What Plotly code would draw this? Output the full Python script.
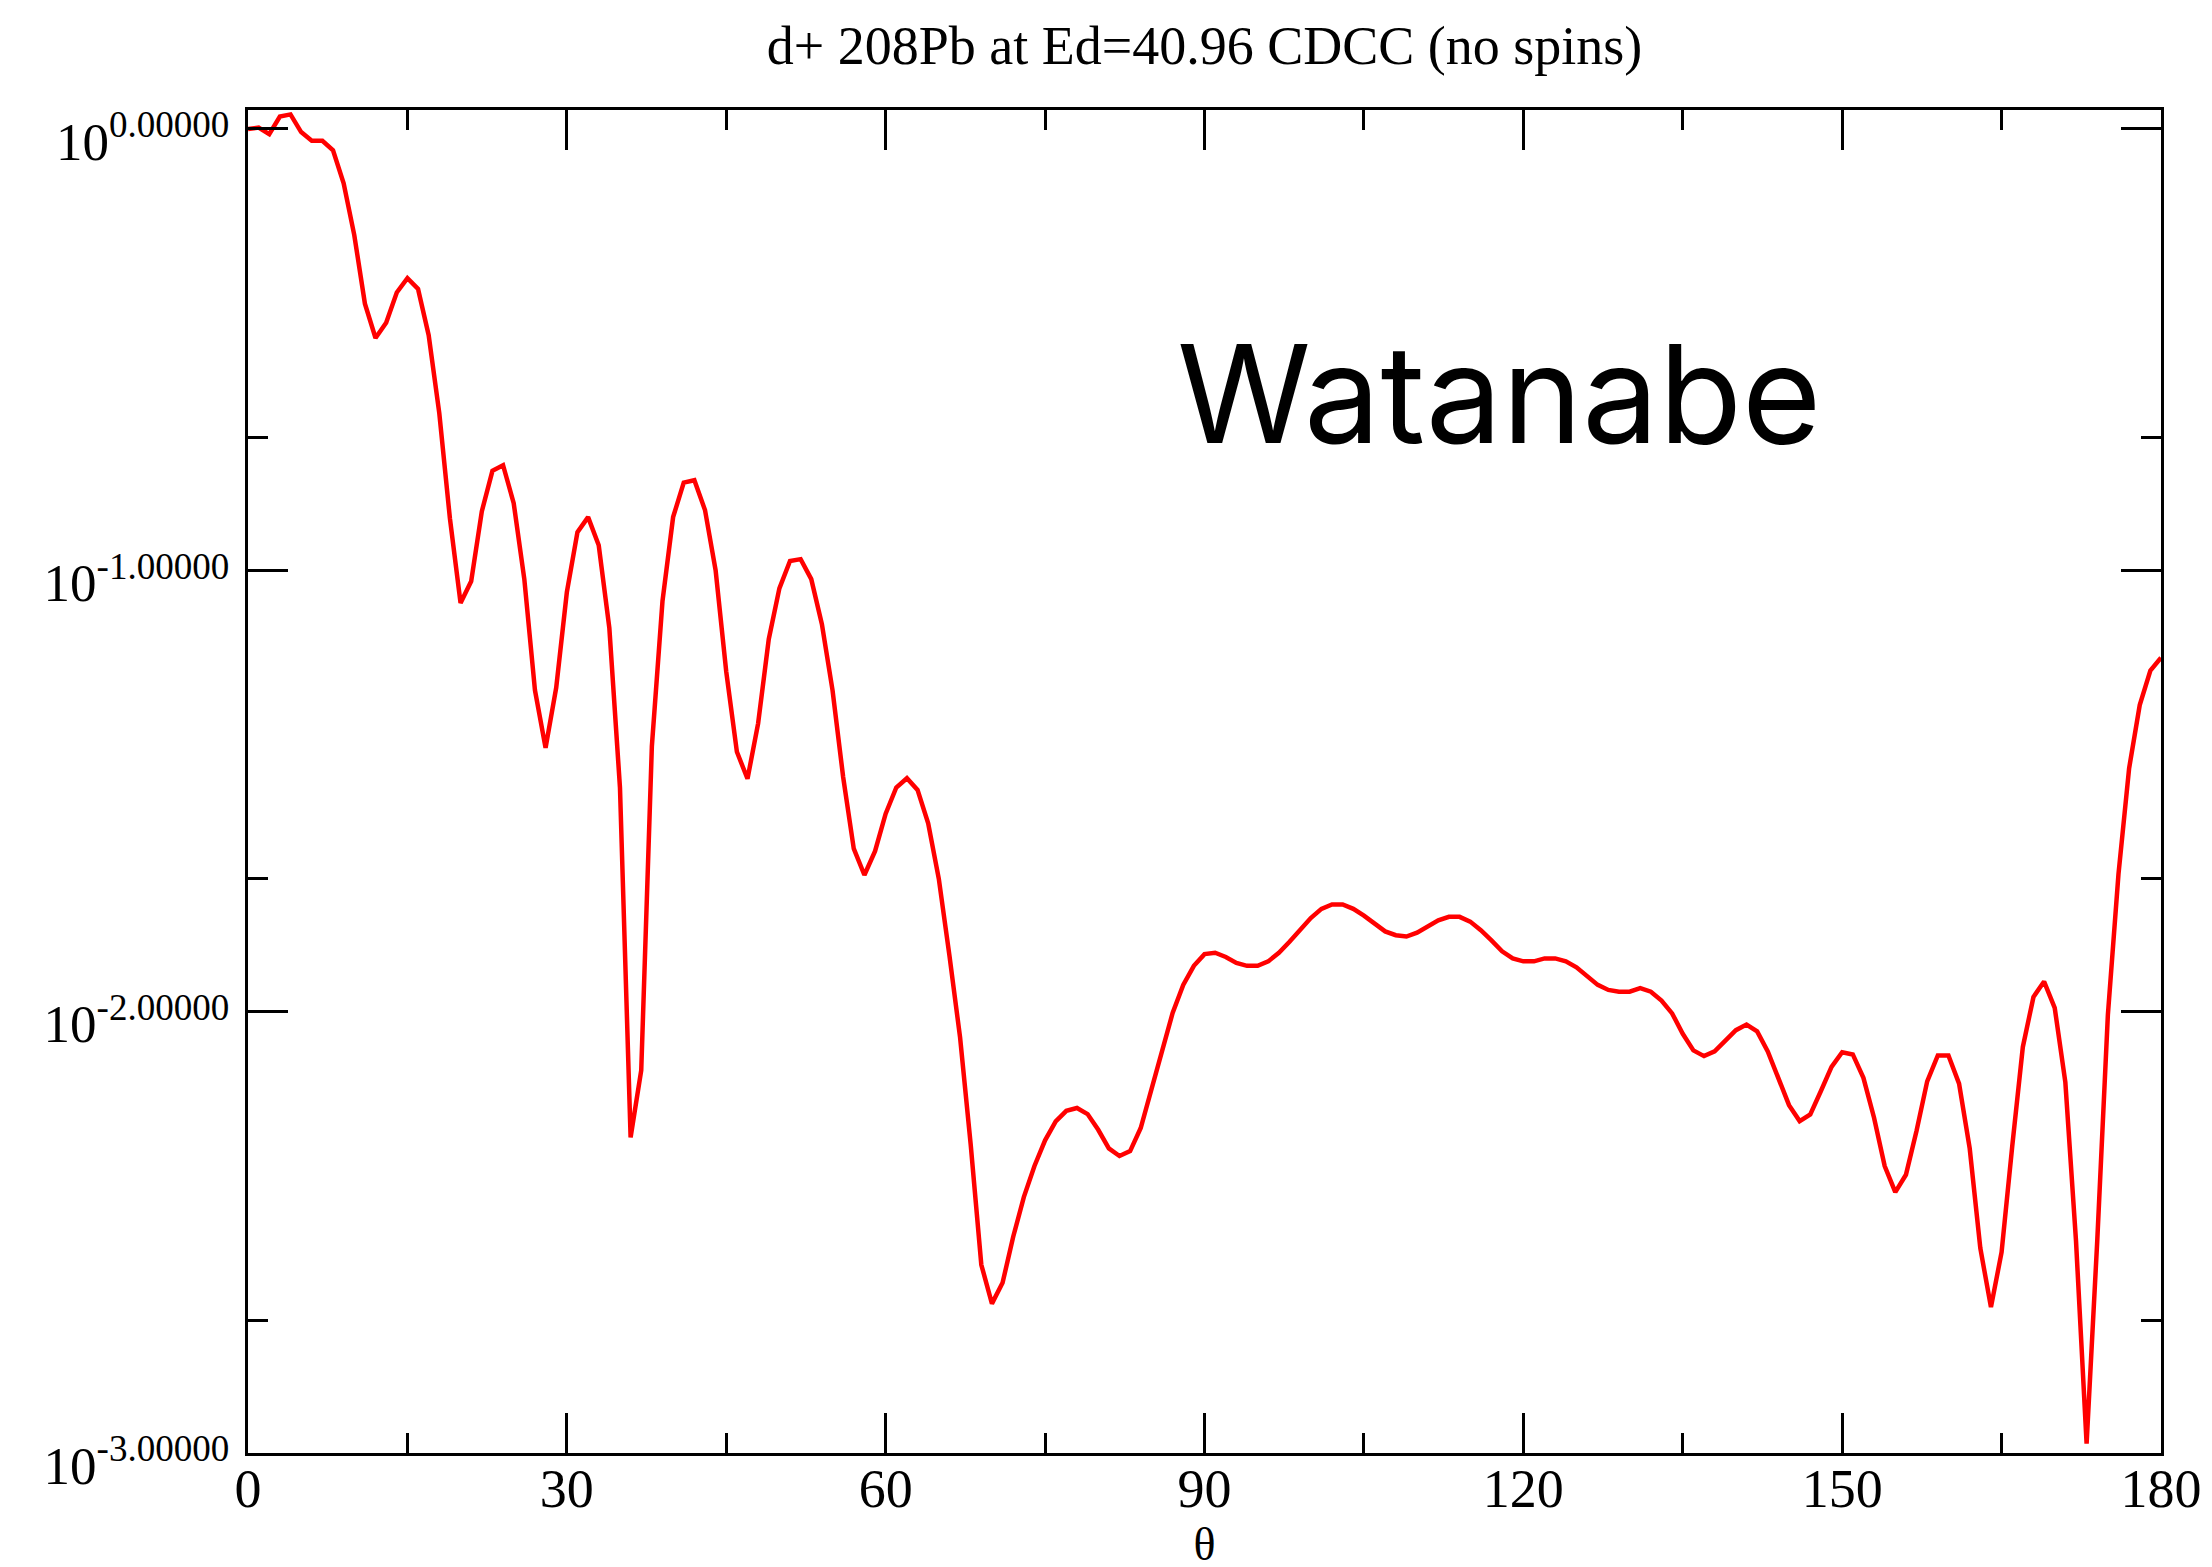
import plotly.graph_objects as go

# Scattering angle (degrees) and cross-section ratio
theta = list(range(0, 181))
ratio = [
    1.000, 1.007, 0.973, 1.067, 1.079, 0.984, 0.940, 0.940, 0.895, 0.753,
    0.575, 0.402, 0.336, 0.364, 0.426, 0.459, 0.434, 0.341, 0.227, 0.131,
    0.0843, 0.0944, 0.136, 0.168, 0.173, 0.142, 0.0955, 0.0535, 0.0396, 0.0542,
    0.0891, 0.122, 0.132, 0.114, 0.0740, 0.0322, 0.00519, 0.00736, 0.0399, 0.0851,
    0.132, 0.158, 0.160, 0.137, 0.100, 0.0589, 0.0388, 0.0337, 0.0450, 0.0698,
    0.0910, 0.105, 0.106, 0.0955, 0.0755, 0.0535, 0.0340, 0.0234, 0.0204, 0.0231,
    0.0281, 0.0322, 0.0338, 0.0318, 0.0267, 0.0200, 0.0134, 0.00875, 0.00500, 0.00267,
    0.00218, 0.00243, 0.00309, 0.00380, 0.00447, 0.00511, 0.00564, 0.00596, 0.00605, 0.00586,
    0.00540, 0.00490, 0.00471, 0.00483, 0.00545, 0.00664, 0.00813, 0.00993, 0.0115, 0.0127,
    0.0135, 0.0136, 0.0133, 0.0129, 0.0127, 0.0127, 0.0130, 0.0136, 0.0144, 0.0153,
    0.0163, 0.0171, 0.0175, 0.0175, 0.0171, 0.0165, 0.0158, 0.0152, 0.0149, 0.0148,
    0.0151, 0.0156, 0.0161, 0.0164, 0.0164, 0.0160, 0.0153, 0.0145, 0.0137, 0.0132,
    0.0130, 0.0130, 0.0132, 0.0132, 0.0130, 0.0126, 0.0120, 0.0115, 0.0112, 0.0111,
    0.0111, 0.0113, 0.0111, 0.0106, 0.00991, 0.00891, 0.00817, 0.00793, 0.00813, 0.00859,
    0.00908, 0.00935, 0.00902, 0.00813, 0.00708, 0.00614, 0.00565, 0.00585, 0.00661, 0.00750,
    0.00809, 0.00800, 0.00708, 0.00575, 0.00447, 0.00390, 0.00427, 0.00537, 0.00695, 0.00796,
    0.00796, 0.00687, 0.00490, 0.00291, 0.00214, 0.00285, 0.00495, 0.00832, 0.0108, 0.0117,
    0.0102, 0.00692, 0.00303, 0.00105, 0.00302, 0.00982, 0.0205, 0.0356, 0.0495, 0.0593,
    0.0634,
]

x_tickvals = [0, 30, 60, 90, 120, 150, 180]
x_ticktext = ["0", "30", "60", "90", "120", "150", "180"]
y_tickvals = [0.001, 0.01, 0.1, 1]
y_ticktext = ["10<sup>-3.00000</sup>", "10<sup>-2.00000</sup>",
              "10<sup>-1.00000</sup>", "10<sup>0.00000</sup>"]
y_minor_vals = [0.002, 0.02, 0.2]

title_text = "d+ 208Pb at Ed=40.96 CDCC (no spins)"
x_title = "θ"
label_text = "Watanabe"

SERIF = "Liberation Serif, Times New Roman, serif"

fig = go.Figure()
fig.add_trace(go.Scatter(
    x=theta, y=ratio, mode="lines",
    line=dict(color="#ff0000", width=4.5),
    showlegend=False,
))

# the page body adds an 8px offset, margins compensate for it
W, H = 2212, 1567
L, R, T, B = 240, 59, 102, 122
PW, PH = W - L - R, H - T - B

fig.update_layout(
    width=W, height=H,
    margin=dict(l=L, r=R, t=T, b=B, autoexpand=False),
    paper_bgcolor="white", plot_bgcolor="white",
    title=dict(text=title_text, x=0.5, xref="paper", xanchor="center",
               y=1 - 37 / H, yanchor="middle", yref="container",
               font=dict(family=SERIF, size=54, color="black")),
    font=dict(family=SERIF, color="black"),
)

fig.update_xaxes(
    range=[0, 180], tickvals=x_tickvals, ticktext=x_ticktext,
    ticks="inside", ticklen=40, tickwidth=3, tickcolor="black",
    showline=True, linewidth=3, linecolor="black", mirror="ticks",
    showgrid=False, zeroline=False,
    tickfont=dict(family=SERIF, size=54, color="black"),
    ticklabelstandoff=-14,
    minor=dict(dtick=15, tick0=0, ticks="inside", ticklen=20, tickwidth=3,
               tickcolor="black", showgrid=False),
    title=dict(text=x_title, font=dict(family=SERIF, size=46, color="black"),
               standoff=6),
    automargin=False,
)

fig.update_yaxes(
    type="log", range=[-3, 0.043],
    tickvals=y_tickvals, ticktext=y_ticktext,
    ticks="inside", ticklen=40, tickwidth=3, tickcolor="black",
    showline=True, linewidth=3, linecolor="black", mirror="ticks",
    showgrid=False, zeroline=False,
    tickfont=dict(family=SERIF, size=53, color="black"),
    ticklabelstandoff=5, ticklabelshift=12,
    minor=dict(tickvals=y_minor_vals, ticks="inside", ticklen=20, tickwidth=3,
               tickcolor="black", showgrid=False),
    automargin=False,
)

fig.add_annotation(
    text=label_text, xref="paper", yref="paper",
    x=(1167 - L) / PW, y=(H - B - 386) / PH,
    xanchor="left", yanchor="middle", showarrow=False,
    font=dict(family="Inter, Lato, sans-serif", size=136, color="black"),
)

fig.write_html("out.html")
